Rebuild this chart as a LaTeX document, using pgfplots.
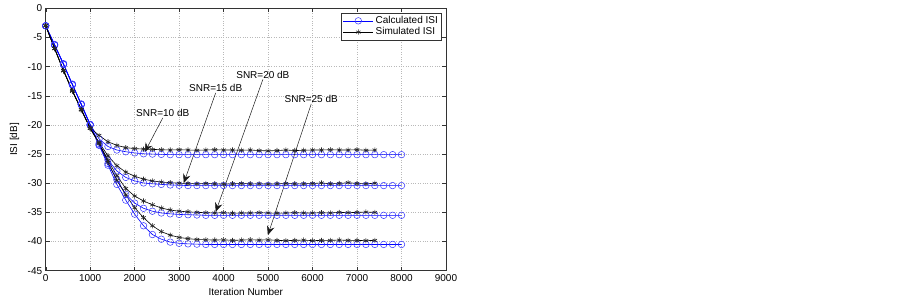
\documentclass[border=0pt]{standalone}
\usepackage{pgfplots}
\pgfplotsset{compat=1.18}
\usepackage{pgfplotstable}
\usepackage{fontspec}
\setmainfont{Liberation Sans}
\usetikzlibrary{arrows.meta}

\pgfplotstableread{
x c10 c15 c20 c25
0 -3.0 -3.0 -3.0 -3.0
200 -6.2 -6.3 -6.3 -6.3
400 -9.5 -9.6 -9.6 -9.6
600 -13.0 -13.1 -13.1 -13.1
800 -16.4 -16.5 -16.5 -16.5
1000 -19.9 -20.0 -20.0 -20.0
1200 -22.4 -23.2 -23.4 -23.5
1400 -23.7 -26.0 -26.6 -26.9
1600 -24.3 -27.9 -29.4 -30.2
1800 -24.6 -29.0 -31.9 -32.9
2000 -24.8 -29.6 -33.4 -35.3
2200 -24.95 -29.95 -34.3 -37.3
2400 -25.0 -30.1 -34.8 -38.8
2600 -25.05 -30.2 -35.1 -39.6
2800 -25.1 -30.3 -35.25 -40.1
3000 -25.1 -30.35 -35.35 -40.3
3200 -25.1 -30.4 -35.4 -40.4
3400 -25.1 -30.4 -35.45 -40.45
3600 -25.1 -30.4 -35.5 -40.5
3800 -25.1 -30.4 -35.5 -40.5
4000 -25.1 -30.4 -35.5 -40.5
4200 -25.1 -30.4 -35.5 -40.5
4400 -25.1 -30.4 -35.5 -40.5
4600 -25.1 -30.4 -35.5 -40.5
4800 -25.1 -30.4 -35.5 -40.5
5000 -25.1 -30.4 -35.5 -40.5
5200 -25.1 -30.4 -35.5 -40.5
5400 -25.1 -30.4 -35.5 -40.5
5600 -25.1 -30.4 -35.5 -40.5
5800 -25.1 -30.4 -35.5 -40.5
6000 -25.1 -30.4 -35.5 -40.5
6200 -25.1 -30.4 -35.5 -40.5
6400 -25.1 -30.4 -35.5 -40.5
6600 -25.1 -30.4 -35.5 -40.5
6800 -25.1 -30.4 -35.5 -40.5
7000 -25.1 -30.4 -35.5 -40.5
7200 -25.1 -30.4 -35.5 -40.5
7400 -25.1 -30.4 -35.5 -40.5
7600 -25.1 -30.4 -35.5 -40.5
7800 -25.1 -30.4 -35.5 -40.5
8000 -25.1 -30.4 -35.5 -40.5
}\calc

\pgfplotstableread{
x s10 s15 s20 s25
0 -3.0 -3.0 -3.0 -3.0
200 -6.9 -6.9 -6.9 -6.9
400 -10.6 -10.7 -10.7 -10.7
600 -14.1 -14.2 -14.2 -14.2
800 -17.3 -17.4 -17.4 -17.4
1000 -20.5 -20.6 -20.6 -20.6
1200 -21.8 -23.0 -23.1 -23.2
1400 -22.9 -25.3 -26.1 -26.4
1600 -23.5 -27.0 -28.7 -29.5
1800 -23.9 -28.1 -30.9 -32.0
2000 -24.05 -28.8 -32.2 -34.2
2200 -24.15 -29.3 -33.05 -35.9
2400 -24.2 -29.6 -33.7 -37.3
2600 -24.25 -29.8 -34.25 -38.3
2800 -24.3 -29.9 -34.6 -38.9
3000 -24.25 -30.0 -34.8 -39.3
3200 -24.3 -30.05 -34.9 -39.5
3400 -24.35 -30.1 -35.0 -39.65
3600 -24.3 -30.05 -35.05 -39.7
3800 -24.25 -30.1 -35.1 -39.75
4000 -24.3 -30.15 -35.05 -39.7
4200 -24.3 -30.1 -35.15 -39.8
4400 -24.35 -30.05 -35.1 -39.75
4600 -24.3 -30.1 -35.1 -39.7
4800 -24.4 -30.1 -35.05 -39.75
5000 -24.45 -30.15 -35.1 -39.7
5200 -24.4 -30.1 -35.15 -39.8
5400 -24.3 -30.05 -35.1 -39.85
5600 -24.4 -30.1 -35.05 -39.8
5800 -24.35 -30.1 -35.1 -39.75
6000 -24.3 -30.05 -35.1 -39.85
6200 -24.3 -29.95 -35.05 -39.8
6400 -24.25 -30.1 -35.1 -39.8
6600 -24.3 -30.05 -35.0 -39.75
6800 -24.3 -29.9 -35.05 -39.8
7000 -24.25 -30.05 -35.0 -39.8
7200 -24.35 -30.1 -34.95 -39.85
7400 -24.3 -30.0 -35.0 -39.8
}\sim

\begin{document}
\begin{tikzpicture}
\useasboundingbox (0,0) rectangle (903pt,299pt);
\begin{axis}[
  at={(45.7pt,28.3pt)}, anchor=south west,
  scale only axis, width=400.3pt, height=262.4pt,
  xmin=0, xmax=9000, ymin=-45, ymax=0,
  xtick={0,1000,...,9000}, ytick={-45,-40,...,0},
  /pgf/number format/assume math mode=true,
  /pgf/number format/1000 sep={},
  tick label style={font=\fontsize{10}{12}\selectfont},
  label style={font=\fontsize{10}{12}\selectfont},
  xlabel={Iteration Number}, ylabel={ISI [dB]},
  xlabel style={at={(axis description cs:0.5,-0.0823)}, anchor=center},
  ylabel style={at={(axis description cs:-0.078,0.5)}, anchor=center},
  grid=major, major grid style={dotted, gray!55, line width=0.5pt},
  tick align=inside, major tick length=4pt,
  axis line style={black!80, line width=0.6pt},
  every tick/.style={black!80},
  legend style={at={(rel axis cs:0.989,0.983)}, anchor=north east,
    font=\fontsize{10}{12}\selectfont, draw=black!80, inner sep=1.5pt,
    row sep=-1.5pt},
  legend cell align=left,
  legend image code/.code={\draw[mark repeat=2,mark phase=2] plot coordinates {(0pt,0pt) (15pt,0pt) (30pt,0pt)};},
]
\pgfplotsset{
  calcst/.style={blue, line width=0.6pt, mark=o, mark size=3.3pt, mark options={blue!80, line width=0.5pt}},
  simst/.style={black, line width=0.6pt, mark=asterisk, mark size=2.6pt, mark options={black!85, line width=0.6pt}},
}
\addplot[calcst] table[x=x,y=c10] {\calc};
\addlegendentry{Calculated ISI}
\addplot[simst] table[x=x,y=s10] {\sim};
\addlegendentry{Simulated ISI}
\addplot[calcst, forget plot] table[x=x,y=c15] {\calc};
\addplot[calcst, forget plot] table[x=x,y=c20] {\calc};
\addplot[calcst, forget plot] table[x=x,y=c25] {\calc};
\addplot[simst, forget plot] table[x=x,y=s15] {\sim};
\addplot[simst, forget plot] table[x=x,y=s20] {\sim};
\addplot[simst, forget plot] table[x=x,y=s25] {\sim};

\tikzset{annarrow/.style={black!90, line width=0.5pt, -{Stealth[length=9pt,width=7.5pt,inset=3pt]}}}
\draw[annarrow] (axis cs:2632,-18.8) -- (axis cs:2228,-24.65);
\node[anchor=south, inner sep=1pt, font=\fontsize{10}{12}\selectfont] at (axis cs:2632,-18.8) {SNR=10 dB};
\draw[annarrow] (axis cs:3822,-14.5) -- (axis cs:3104,-29.97);
\node[anchor=south, inner sep=1pt, font=\fontsize{10}{12}\selectfont] at (axis cs:3822,-14.5) {SNR=15 dB};
\draw[annarrow] (axis cs:4883,-12.2) -- (axis cs:3822,-34.9);
\node[anchor=south, inner sep=1pt, font=\fontsize{10}{12}\selectfont] at (axis cs:4883,-12.2) {SNR=20 dB};
\draw[annarrow] (axis cs:5970,-16.4) -- (axis cs:4995,-38.9);
\node[anchor=south, inner sep=1pt, font=\fontsize{10}{12}\selectfont] at (axis cs:5970,-16.4) {SNR=25 dB};
\end{axis}
\end{tikzpicture}
\end{document}
